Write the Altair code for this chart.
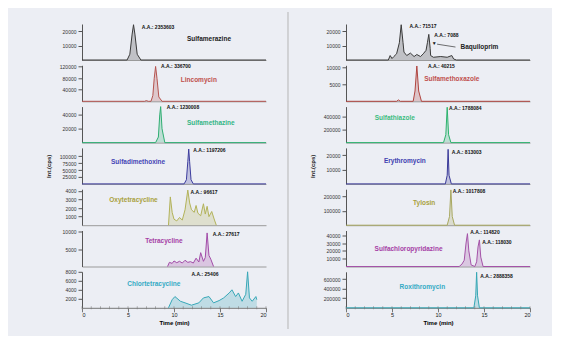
import altair as alt
import pandas as pd

X_LABELS = [0, 5, 10, 15, 20]
X_MINOR = list(range(0, 21))

# ---------------- left column ----------------
L1_T = [0, 4.9, 5.2, 5.45, 5.6, 5.75, 6.0, 6.4, 20]
L1_V = [0, 0, 4000, 18000, 24500, 18000, 4000, 0, 0]
L2_T = [0, 6.8, 7.0, 7.2, 7.5, 7.7, 7.85, 8.0, 8.15, 8.35, 8.7, 20]
L2_V = [0, 0, 2500, 0, 0, 20000, 80000, 121000, 80000, 15000, 0, 0]
L3_T = [0, 8.0, 8.3, 8.45, 8.55, 8.7, 9.0, 20]
L3_V = [0, 0, 8000, 40000, 52000, 20000, 0, 0]
L4_T = [0, 11.1, 11.35, 11.5, 11.6, 11.7, 11.85, 12.1, 20]
L4_V = [0, 0, 15000, 80000, 126000, 80000, 15000, 0, 0]
L5_T = [9.4, 9.6, 9.8, 10.0, 10.3, 10.6, 10.9, 11.2, 11.5, 11.7, 11.9, 12.2, 12.4,
        12.6, 12.9, 13.2, 13.4, 13.6, 13.8, 14.1, 14.4, 14.6]
L5_V = [0, 3300, 1500, 700, 500, 900, 600, 1800, 4100, 2600, 1800, 1500, 2300,
        1400, 1100, 2500, 1300, 2200, 1000, 1600, 600, 0]
L6_T = [9.3, 9.5, 9.8, 10.0, 10.3, 10.6, 10.9, 11.2, 11.5, 11.8, 12.1, 12.4, 12.7,
        12.9, 13.2, 13.4, 13.6, 13.8, 14.0, 14.3]
L6_V = [0, 1200, 900, 1600, 1100, 1500, 1000, 1800, 1200, 1400, 1000, 2400, 1300,
        4000, 1500, 2600, 9700, 3200, 2100, 0]
L7_T = [9.4, 9.8, 10.1, 10.7, 11.2, 11.9, 12.7, 13.2, 13.8, 14.3, 14.9, 15.4, 16.0,
        16.3, 16.7, 17.0, 17.4, 17.8, 18.0, 18.2, 18.5, 18.9, 19.0]
L7_V = [0, 1800, 2500, 1450, 1100, 580, 1100, 2200, 2500, 1100, 1600, 2200, 3300,
        4000, 2500, 3300, 1450, 3000, 8000, 2200, 1450, 2500, 1800]

L_NAMES = ["Sulfamerazine", "Lincomycin", "Sulfamethazine", "Sulfadimethoxine",
           "Oxytetracycline", "Tetracycline", "Chlortetracycline"]
L_NAME_T = [13.8, 12.7, 14.0, 6.1, 5.6, 8.9, 7.8]
L_NAME_V = [14600, 73000, 28900, 79400, 2900, 7500, 5300]
L_AA = ["A.A.: 2353603", "A.A.: 336700", "A.A.: 1230008", "A.A.: 1197206",
        "A.A.: 96617", "A.A.: 27617", "A.A.: 25406"]
L_AA_T = [6.5, 8.6, 9.2, 12.1, 11.8, 14.2, 11.9]
L_AA_V = [22900, 121500, 51000, 122700, 3850, 9500, 7550]
L_YMAX = [25000, 125000, 52000, 130000, 4200, 10400, 8000]
L_YTICKS = [[10000, 20000], [40000, 80000, 120000], [20000, 40000],
            [25000, 50000, 75000, 100000], [1000, 2000, 3000, 4000],
            [5000, 10000], [2000, 4000, 6000, 8000]]
L_COLORS = ["#3a3a3a", "#b5534f", "#2fae72", "#3d3d9e", "#b3b35a", "#a24ca8", "#38a8b8"]
L_NAME_COLORS = ["#222222", "#c0504d", "#33b585", "#4545b5", "#a9a140", "#a540a5", "#33aac4"]

# ---------------- right column ----------------
R1_T = [0, 4.6, 4.8, 5.0, 5.2, 5.5, 5.8, 6.0, 6.2, 6.3, 6.6, 7.0, 7.4, 7.7, 8.1, 8.4,
        8.7, 8.85, 9.0, 9.15, 9.2, 9.5, 10.3, 11.0, 11.5, 11.7, 12.0, 20]
R1_V = [0, 0, 3100, 1000, 2400, 4300, 12000, 24500, 12000, 5500, 3100, 4800, 2400,
        3800, 2400, 4300, 6700, 12000, 17800, 8000, 3100, 1900, 2400, 1900, 3100,
        700, 0, 0]
R2_T = [0, 5.5, 5.7, 5.9, 7.3, 7.5, 7.7, 7.9, 8.2, 20]
R2_V = [0, 0, 400, 0, 0, 3000, 10300, 3000, 0, 0]
R3_T = [0, 10.6, 10.85, 11.0, 11.15, 11.4, 20]
R3_V = [0, 0, 120000, 540000, 120000, 0, 0]
R4_T = [0, 10.8, 11.0, 11.1, 11.2, 11.45, 20]
R4_V = [0, 0, 6000, 24000, 6000, 0, 0]
R5_T = [0, 11.0, 11.25, 11.4, 11.55, 11.8, 20]
R5_V = [0, 0, 60000, 245000, 60000, 0, 0]
R6_T = [0, 12.3, 12.6, 12.85, 13.05, 13.2, 13.35, 13.6, 14.0, 14.2, 14.35, 14.5,
        14.65, 14.9, 20]
R6_V = [0, 0, 3000, 8000, 30000, 42000, 20000, 2000, 0, 6000, 25000, 34000,
        12000, 0, 0]
R7_T = [0, 13.9, 14.1, 14.2, 14.3, 14.5, 20]
R7_V = [0, 0, 250000, 740000, 250000, 0, 0]

R_NAMES = ["Baquiloprim", "Sulfamethoxazole", "Sulfathiazole", "Erythromycin",
           "Tylosin", "Sulfachloropyridazine", "Roxithromycin"]
R_NAME_T = [14.5, 11.5, 5.3, 6.4, 8.5, 6.8, 8.3]
R_NAME_V = [8800, 6400, 371000, 16000, 153000, 23000, 437000]
R_AA = [["A.A.: 71517", "A.A.: 7088"], ["A.A.: 40215"], ["A.A.: 1788084"],
        ["A.A.: 813003"], ["A.A.: 1017808"], ["A.A.: 114820", "A.A.: 118030"],
        ["A.A.: 2888358"]]
R_AA_T = [[6.9, 9.6], [8.9], [11.2], [11.5], [11.6], [13.5, 14.8], [14.6]]
R_AA_V = [[23800, 17500], [10200], [535000], [22200], [236000], [43500, 30800], [667000]]
R_YMAX = [25000, 10500, 550000, 25000, 250000, 46000, 750000]
R_YTICKS = [[10000, 20000], [5000, 10000], [200000, 400000], [10000, 20000],
            [100000, 200000], [10000, 20000, 30000, 40000], [200000, 400000, 600000]]
R_COLORS = ["#3a3a3a", "#b0443f", "#2db36e", "#3a3a99", "#a8a860", "#a453a8", "#35a7b5"]
R_NAME_COLORS = ["#222222", "#c0504d", "#3cbc80", "#4040b0", "#a9a140", "#a540a5", "#33aac4"]

# arrow in top right panel
ARROW_T = [9.6]
ARROW_V = [12000]
ARROW_LINE = {"t": [9.9], "t2": [11.9], "v": [11000], "v2": [9000]}

FONT = "Liberation Sans"
W, H = 184, 36


def panel(t, v, color, ymax, yticks, name, name_t, name_v, name_color,
          aa, aa_t, aa_v, bottom=False, ytitle=False, title_pad=8, extra=None):
    df = pd.DataFrame({"t": t, "v": v})
    xsc = alt.Scale(domain=[0, 20], nice=False)
    ysc = alt.Scale(domain=[0, ymax], nice=False)
    if bottom:
        xax = alt.Axis(values=X_LABELS, tickCount=10, title="Time (min)", tickSize=4,
                       format="d", labelFontSize=5.5, labelFont=FONT, labelPadding=1,
                       labelOverlap=False,
                       titleFontSize=6, titleFont=FONT, titleFontWeight="bold",
                       titlePadding=1, domainColor="#777", tickColor="#777",
                       labelColor="#222", grid=False)
    else:
        xax = alt.Axis(labels=False, ticks=False, title=None, domainColor="#9a9a9a",
                       grid=False)
    yargs = dict(values=yticks, tickCount=10, format="d", tickSize=4, labelPadding=2,
                 labelFontSize=5, labelFont=FONT, labelColor="#333",
                 labelOverlap=False, labelBound=False,
                 domainColor="#555", tickColor="#555", grid=False)
    if ytitle:
        yax = alt.Axis(title="Int.(cps)", titleFontSize=6, titleFont=FONT,
                       titleFontWeight="bold", titlePadding=title_pad, titleColor="#222",
                       **yargs)
    else:
        yax = alt.Axis(title=None, **yargs)
    base = alt.Chart(df)
    area = base.mark_area(color=color, opacity=0.25).encode(
        x=alt.X("t:Q", scale=xsc, axis=xax), y=alt.Y("v:Q", scale=ysc, axis=yax))
    line = base.mark_line(color=color, strokeWidth=1).encode(x="t:Q", y="v:Q")
    layers = [area, line]
    if bottom:
        mdf = pd.DataFrame({"t": X_MINOR})
        layers.append(alt.Chart(mdf).mark_tick(orient="vertical", size=3, thickness=0.8,
                                               color="#777").encode(
            x="t:Q", y=alt.datum(0)))
    ndf = pd.DataFrame({"t": [name_t], "v": [name_v], "label": [name]})
    layers.append(alt.Chart(ndf).mark_text(color=name_color, fontSize=6.5, font=FONT,
                                           fontWeight="bold", align="center",
                                           baseline="middle").encode(
        x="t:Q", y="v:Q", text="label:N"))
    adf = pd.DataFrame({"t": aa_t, "v": aa_v, "label": aa})
    layers.append(alt.Chart(adf).mark_text(color="#111", fontSize=5, font=FONT,
                                           fontWeight="bold", align="left",
                                           baseline="middle").encode(
        x="t:Q", y="v:Q", text="label:N"))
    if extra is not None:
        layers.extend(extra)
    return alt.layer(*layers).properties(width=W, height=H)


arrow_df = pd.DataFrame({"t": ARROW_T, "v": ARROW_V, "label": ["\u25bc"]})
arrow = alt.Chart(arrow_df).mark_text(fontSize=5, color="#111", align="center",
                                      baseline="middle").encode(
    x="t:Q", y="v:Q", text="label:N")
aline = alt.Chart(pd.DataFrame(ARROW_LINE)).mark_rule(color="#333", strokeWidth=0.7).encode(
    x="t:Q", x2="t2:Q", y="v:Q", y2="v2:Q")

L_SERIES = [(L1_T, L1_V), (L2_T, L2_V), (L3_T, L3_V), (L4_T, L4_V),
            (L5_T, L5_V), (L6_T, L6_V), (L7_T, L7_V)]
R_SERIES = [(R1_T, R1_V), (R2_T, R2_V), (R3_T, R3_V), (R4_T, R4_V),
            (R5_T, R5_V), (R6_T, R6_V), (R7_T, R7_V)]

left_panels = []
for i, (t, v) in enumerate(L_SERIES):
    left_panels.append(panel(t, v, L_COLORS[i], L_YMAX[i], L_YTICKS[i], L_NAMES[i],
                             L_NAME_T[i], L_NAME_V[i], L_NAME_COLORS[i],
                             [L_AA[i]], [L_AA_T[i]], [L_AA_V[i]],
                             bottom=(i == 6), ytitle=(i == 3), title_pad=8))
right_panels = []
for i, (t, v) in enumerate(R_SERIES):
    right_panels.append(panel(t, v, R_COLORS[i], R_YMAX[i], R_YTICKS[i], R_NAMES[i],
                              R_NAME_T[i], R_NAME_V[i], R_NAME_COLORS[i],
                              R_AA[i], R_AA_T[i], R_AA_V[i],
                              bottom=(i == 6), ytitle=(i == 3), title_pad=11,
                              extra=[arrow, aline] if i == 0 else None))

left_col = alt.vconcat(*left_panels, spacing=5.3, bounds="flush")
right_col = alt.vconcat(*right_panels, spacing=5.3, bounds="flush")

divider = alt.Chart(pd.DataFrame({"a": [0]})).mark_rule(color="#b5b5b5", strokeWidth=1).encode(
    x=alt.value(10), y=alt.value(-12), y2=alt.value(305)).properties(width=21, height=290)

chart = alt.hconcat(left_col, divider, right_col, spacing=10).properties(
    padding={"left": 37, "top": 3, "right": 20, "bottom": 6}
).configure(background="#eceef4", font=FONT).configure_view(stroke=None).configure_axis(
    labelOverlap=False, labelBound=False)

chart.save("out.html", embed_options={"renderer": "svg", "actions": False})
